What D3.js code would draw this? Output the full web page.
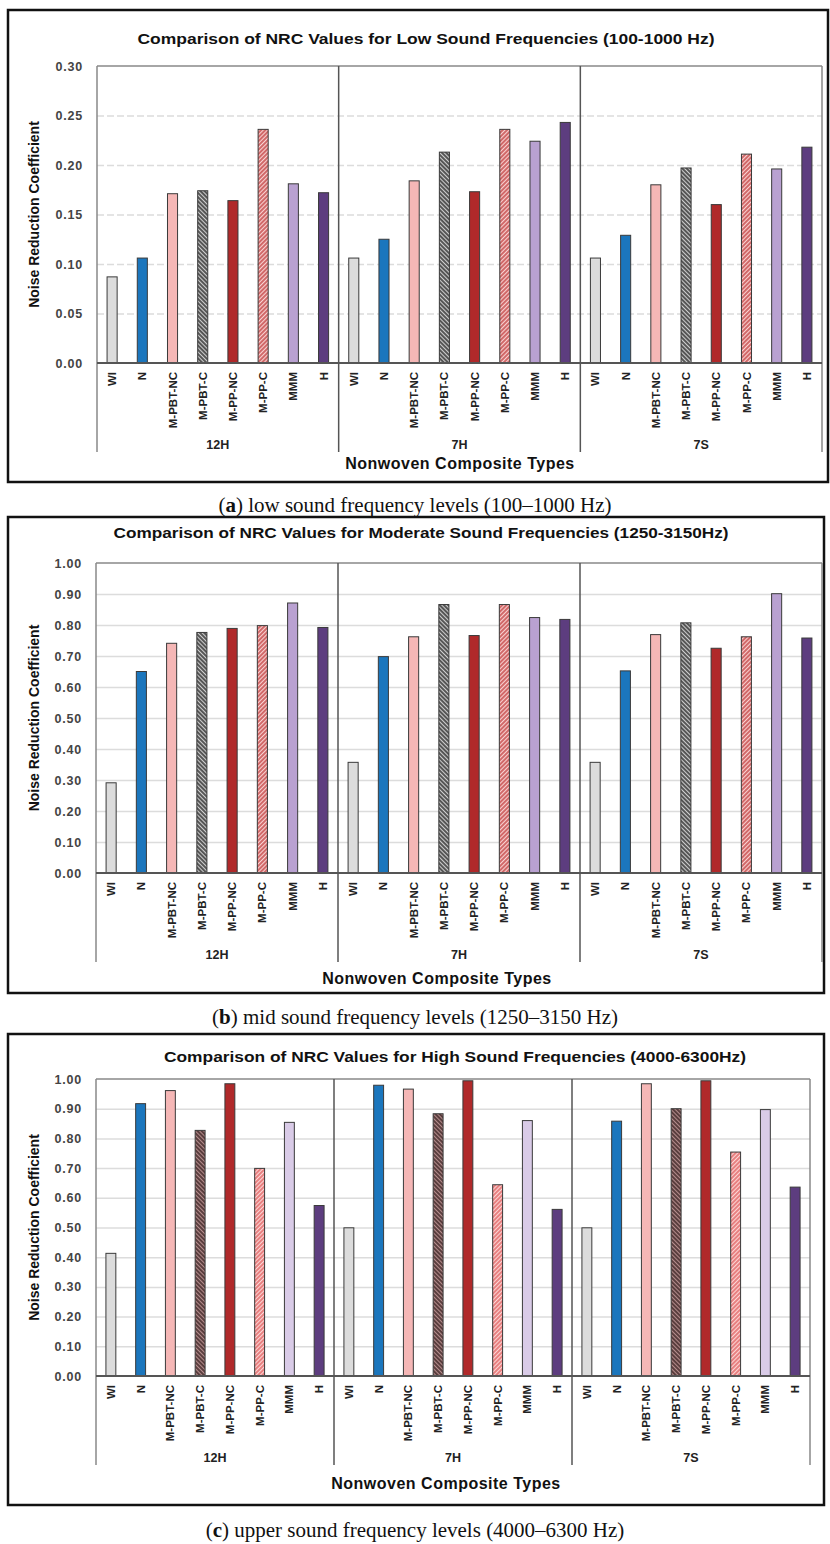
<!DOCTYPE html>
<html>
<head>
<meta charset="utf-8">
<script src="https://cdn.jsdelivr.net/npm/d3@7/dist/d3.min.js"></script>
<style>
  html, body { margin: 0; padding: 0; background: #fff; }
  svg text { font-family: "Liberation Sans", Arial, sans-serif; }
  .caption { font-family: "Liberation Serif", "Times New Roman", serif; }
</style>
</head>
<body>
<svg id="fig" width="830" height="1544"></svg>
<script>
// categories
var groups = ["12H", "7H", "7S"];
var types = ["WI", "N", "M-PBT-NC", "M-PBT-C", "M-PP-NC", "M-PP-C", "MMM", "H"];

// NRC values, one row per group (12H, 7H, 7S)
var nrcLow = [
  [0.087, 0.106, 0.171, 0.174, 0.164, 0.236, 0.181, 0.172],
  [0.106, 0.125, 0.184, 0.213, 0.173, 0.236, 0.224, 0.243],
  [0.106, 0.129, 0.180, 0.197, 0.160, 0.211, 0.196, 0.218]
];
var nrcMid = [
  [0.291, 0.650, 0.741, 0.776, 0.789, 0.798, 0.871, 0.792],
  [0.357, 0.698, 0.762, 0.866, 0.766, 0.866, 0.824, 0.818],
  [0.357, 0.652, 0.769, 0.807, 0.725, 0.762, 0.901, 0.758]
];
var nrcHigh = [
  [0.413, 0.917, 0.961, 0.827, 0.984, 0.699, 0.854, 0.574],
  [0.499, 0.979, 0.966, 0.883, 0.994, 0.644, 0.860, 0.561],
  [0.499, 0.858, 0.984, 0.900, 0.994, 0.754, 0.897, 0.636]
];

// tick labels
var lowTicks = [0, 0.05, 0.10, 0.15, 0.20, 0.25, 0.30];
var midTicks = [0, 0.1, 0.2, 0.3, 0.4, 0.5, 0.6, 0.7, 0.8, 0.9, 1.0];
var highTicks = midTicks;

var titles = [
  "Comparison of NRC Values for Low Sound Frequencies (100-1000 Hz)",
  "Comparison of NRC Values for Moderate Sound Frequencies (1250-3150Hz)",
  "Comparison of NRC Values for High Sound Frequencies (4000-6300Hz)"
];
var captionLetters = ["a", "b", "c"];
var captionTexts = [
  " low sound frequency levels (100\u20131000 Hz)",
  " mid sound frequency levels (1250\u20133150 Hz)",
  " upper sound frequency levels (4000\u20136300 Hz)"
];
var yTitle = "Noise Reduction Coefficient";
var xTitle = "Nonwoven Composite Types";

// layout of each panel
var panels = [
  {values: nrcLow, ticks: lowTicks, box: [8, 10, 828, 482], plot: [97, 66, 822, 363],
   titleX: 426, titleY: 39, titleW: 577, xTitleX: 460, xTitleY: 463, captionY: 505, dark: false, dash: "7,3"},
  {values: nrcMid, ticks: midTicks, box: [8, 517, 824, 993], plot: [96, 563, 822, 873],
   titleX: 421, titleY: 533, titleW: 615, xTitleX: 437, xTitleY: 978, captionY: 1017, dark: false, dash: null},
  {values: nrcHigh, ticks: highTicks, box: [8, 1034, 824, 1505], plot: [96, 1079, 810, 1376],
   titleX: 455, titleY: 1057, titleW: 582, xTitleX: 446, xTitleY: 1483, captionY: 1530, dark: true, dash: null}
];

var svg = d3.select("#fig");
var defs = svg.append("defs");

function hatch(id, bg, line, angle) {
  var p = defs.append("pattern")
    .attr("id", id)
    .attr("patternUnits", "userSpaceOnUse")
    .attr("width", 3).attr("height", 3)
    .attr("patternTransform", "rotate(" + angle + ")");
  p.append("rect").attr("width", 3).attr("height", 3).attr("fill", bg);
  p.append("line").attr("x1", 1).attr("y1", 0).attr("x2", 1).attr("y2", 3)
    .attr("stroke", line).attr("stroke-width", 1.4);
}
hatch("pbtc", "#cfcfcf", "#222", -45);
hatch("ppc", "#f9d2d2", "#c03c3c", 45);
hatch("pbtc2", "#b58d8d", "#331c1c", -45);
hatch("ppc2", "#fcd6d6", "#e05c5c", 45);

function fillFor(type, dark) {
  switch (type) {
    case "WI": return "#dcdcdc";
    case "N": return "#1b76bd";
    case "M-PBT-NC": return "#f5b7b6";
    case "M-PBT-C": return dark ? "url(#pbtc2)" : "url(#pbtc)";
    case "M-PP-NC": return "#b0292a";
    case "M-PP-C": return dark ? "url(#ppc2)" : "url(#ppc)";
    case "MMM": return dark ? "#d9cbe7" : "#b9a1d1";
    case "H": return "#5d3d7f";
  }
}

panels.forEach(function(cfg, pi) {
  var g = svg.append("g");
  var left = cfg.plot[0], top = cfg.plot[1], right = cfg.plot[2], zero = cfg.plot[3];
  var ymax = cfg.ticks[cfg.ticks.length - 1];

  // outer frame
  g.append("rect")
    .attr("x", cfg.box[0]).attr("y", cfg.box[1])
    .attr("width", cfg.box[2] - cfg.box[0]).attr("height", cfg.box[3] - cfg.box[1])
    .attr("fill", "#fff").attr("stroke", "#111").attr("stroke-width", 2.5);

  var x0 = d3.scaleBand().domain(groups).range([left, right]);
  var x1 = d3.scaleBand().domain(types).range([0, x0.bandwidth()])
    .paddingInner(2 / 3).paddingOuter(1 / 3);
  var y = d3.scaleLinear().domain([0, ymax]).range([zero, top]);

  // gridlines
  g.append("g")
    .attr("transform", "translate(" + left + ",0)")
    .call(d3.axisLeft(y).tickValues(cfg.ticks.slice(1, -1)).tickSize(-(right - left)).tickFormat(""))
    .call(function(a) {
      a.select(".domain").remove();
      a.selectAll("line").attr("stroke", "#dcdcdc").attr("stroke-width", 1.5)
        .attr("stroke-dasharray", cfg.dash);
    });

  // y axis labels
  g.append("g")
    .attr("transform", "translate(" + (left - 11) + ",0)")
    .call(d3.axisLeft(y).tickValues(cfg.ticks).tickSize(0).tickFormat(d3.format(".2f")))
    .call(function(a) {
      a.select(".domain").remove();
      a.selectAll("text").attr("fill", "#444").attr("font-size", 12.5)
        .attr("font-weight", "bold").attr("letter-spacing", 0.8)
        .attr("font-family", "'Liberation Sans', Arial, sans-serif");
    });

  // plot frame (top) and group dividers
  g.append("line").attr("x1", left).attr("x2", right).attr("y1", top).attr("y2", top)
    .attr("stroke", "#888").attr("stroke-width", 1.5);
  var divs = [left].concat(groups.slice(1).map(function(d) { return x0(d); })).concat([right]);
  g.selectAll(".div").data(divs).enter().append("line")
    .attr("x1", function(d) { return d; }).attr("x2", function(d) { return d; })
    .attr("y1", top).attr("y2", zero + 89)
    .attr("stroke", function(d, i) { return (i === 0 || i === divs.length - 1) ? "#888" : "#555"; })
    .attr("stroke-width", 1.5);

  // bars
  var grp = g.selectAll(".grp").data(groups).enter().append("g")
    .attr("transform", function(d) { return "translate(" + x0(d) + ",0)"; });
  grp.selectAll("rect")
    .data(function(d, gi) { return types.map(function(t, ti) { return {type: t, v: cfg.values[gi][ti]}; }); })
    .enter().append("rect")
    .attr("x", function(d) { return x1(d.type); })
    .attr("width", x1.bandwidth())
    .attr("y", function(d) { return y(d.v); })
    .attr("height", function(d) { return zero - y(d.v); })
    .attr("fill", function(d) { return fillFor(d.type, cfg.dark); })
    .attr("stroke", "#3a3a3a").attr("stroke-width", 1);

  // category labels
  grp.selectAll(".cat").data(types).enter().append("text")
    .attr("transform", function(d) {
      return "translate(" + (x1(d) + x1.bandwidth() / 2) + "," + (zero + 9) + ") rotate(-90)";
    })
    .attr("text-anchor", "end").attr("dy", "0.35em")
    .attr("font-size", 11.5).attr("font-weight", "bold").attr("fill", "#222")
    .text(function(d) { return d; });

  // group labels
  grp.append("text")
    .attr("x", x0.bandwidth() / 2).attr("y", zero + 82)
    .attr("dy", "0.35em").attr("text-anchor", "middle")
    .attr("font-size", 12.5).attr("font-weight", "bold").attr("fill", "#222")
    .text(function(d) { return d; });

  // zero line
  g.append("line").attr("x1", left).attr("x2", right).attr("y1", zero).attr("y2", zero)
    .attr("stroke", "#555").attr("stroke-width", 2);

  // titles
  g.append("text").attr("x", cfg.titleX).attr("y", cfg.titleY).attr("dy", "0.35em")
    .attr("text-anchor", "middle").attr("font-size", 15.5).attr("font-weight", "bold")
    .attr("textLength", cfg.titleW).attr("lengthAdjust", "spacingAndGlyphs")
    .attr("fill", "#111").text(titles[pi]);

  g.append("text")
    .attr("transform", "translate(34," + ((top + zero) / 2) + ") rotate(-90)")
    .attr("text-anchor", "middle").attr("dy", "0.35em")
    .attr("font-size", 14).attr("font-weight", "bold").attr("fill", "#111")
    .text(yTitle);

  g.append("text").attr("x", cfg.xTitleX).attr("y", cfg.xTitleY).attr("dy", "0.35em")
    .attr("text-anchor", "middle").attr("font-size", 16).attr("font-weight", "bold")
    .attr("letter-spacing", 0.5)
    .attr("fill", "#111").text(xTitle);

  // caption below the panel
  var cap = svg.append("text").attr("class", "caption")
    .attr("x", 415).attr("y", cfg.captionY).attr("dy", "0.35em")
    .attr("text-anchor", "middle").attr("font-size", 21).attr("fill", "#111");
  cap.append("tspan").text("(");
  cap.append("tspan").attr("font-weight", "bold").text(captionLetters[pi]);
  cap.append("tspan").text(")" + captionTexts[pi]);
});
</script>
</body>
</html>
